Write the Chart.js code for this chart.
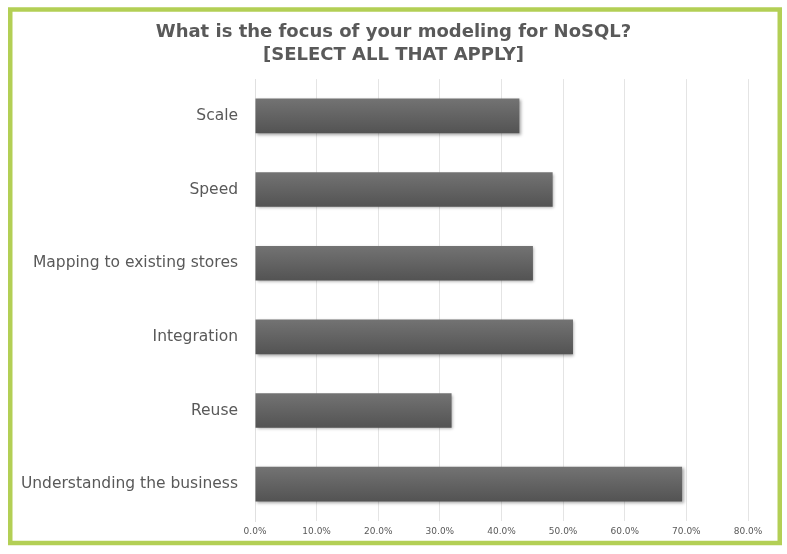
<!DOCTYPE html>
<html>
<head>
<meta charset="utf-8">
<script src="https://cdn.jsdelivr.net/npm/chart.js@4.4.1/dist/chart.umd.min.js"></script>
<style>
  html, body { margin: 0; padding: 0; background: #ffffff; }
  #wrap { position: relative; width: 787px; height: 554px; }
</style>
</head>
<body>
<div id="wrap"><canvas id="c" width="787" height="554"></canvas></div>
<script>
const categories = [
  'Scale',
  'Speed',
  'Mapping to existing stores',
  'Integration',
  'Reuse',
  'Understanding the business'
];
const values = [42.9, 48.3, 45.1, 51.6, 31.9, 69.3];
const titleLines = ['What is the focus of your modeling for NoSQL?', '[SELECT ALL THAT APPLY]'];
const xTickMax = 80;
const xTickStep = 10;

const TEXT = '#595959';

const frame = {
  id: 'frame',
  afterLayout(chart) {
    // centre the title over the full canvas width
    if (chart.titleBlock) {
      chart.titleBlock.left = 0;
      chart.titleBlock.right = chart.width;
      chart.titleBlock.width = chart.width;
    }
  },
  afterDraw(chart) {
    const ctx = chart.ctx;
    ctx.save();
    ctx.strokeStyle = '#b3cf55';
    ctx.lineWidth = 4.5;
    ctx.strokeRect(10.25, 9.5, 769.5, 533.5);
    ctx.restore();
  }
};

const barStyle = {
  id: 'barStyle',
  beforeDatasetsDraw(chart) {
    const ctx = chart.ctx;
    chart.getSortedVisibleDatasetMetas().forEach(meta => {
      meta.data.forEach(el => {
        const h = el.height;
        const g = ctx.createLinearGradient(0, el.y - h / 2, 0, el.y + h / 2);
        g.addColorStop(0, '#737373');
        g.addColorStop(1, '#535353');
        el.options.backgroundColor = g;
      });
    });
    ctx.save();
    ctx.shadowColor = 'rgba(0,0,0,0.35)';
    ctx.shadowBlur = 3;
    ctx.shadowOffsetX = 1.5;
    ctx.shadowOffsetY = 1.5;
  },
  afterDatasetsDraw(chart) {
    chart.ctx.restore();
  }
};

new Chart(document.getElementById('c'), {
  type: 'bar',
  data: {
    labels: categories,
    datasets: [{
      data: values,
      backgroundColor: () => '#626262',
      borderWidth: 0,
      categoryPercentage: 1,
      barPercentage: 0.47
    }]
  },
  options: {
    indexAxis: 'y',
    responsive: false,
    animation: false,
    devicePixelRatio: 1,
    layout: { padding: { left: 0, right: 39, top: 9, bottom: 13 } },
    plugins: {
      legend: { display: false },
      tooltip: { enabled: false },
      title: {
        display: true,
        text: titleLines,
        color: TEXT,
        font: { family: 'DejaVu Sans', size: 18, weight: 'bold', lineHeight: 1.28 },
        padding: { top: 12, bottom: 12 }
      }
    },
    scales: {
      x: {
        min: 0,
        max: xTickMax,
        afterFit(scale) { scale.height = 20; },
        ticks: {
          stepSize: xTickStep,
          color: TEXT,
          padding: 5,
          font: { family: 'DejaVu Sans', size: 9 },
          callback: v => Number(v).toFixed(1) + '%'
        },
        grid: { color: '#e4e4e4', lineWidth: 1, drawTicks: false },
        border: { display: false }
      },
      y: {
        afterFit(scale) { scale.width = 255; },
        ticks: {
          color: TEXT,
          padding: 17,
          font: { family: 'DejaVu Sans', size: 15.5 }
        },
        grid: { display: false, drawTicks: false },
        border: { display: true, color: '#e0e0e0' }
      }
    }
  },
  plugins: [barStyle, frame]
});
</script>
</body>
</html>
